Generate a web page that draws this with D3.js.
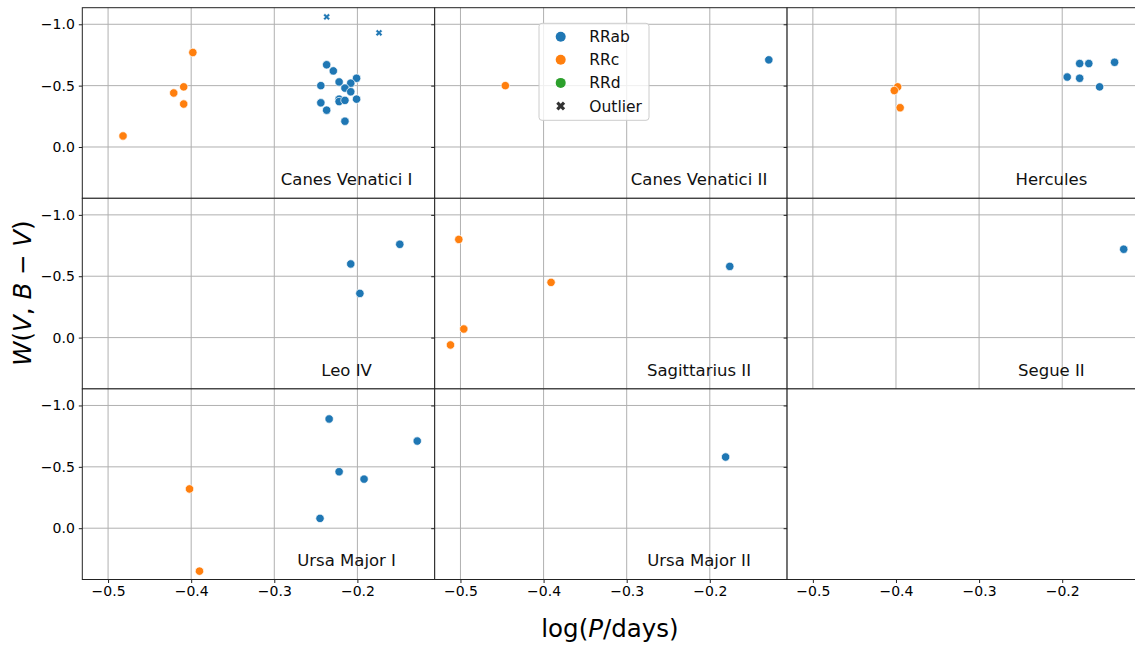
<!DOCTYPE html>
<html>
<head>
<meta charset="utf-8">
<script src="https://cdn.jsdelivr.net/npm/d3@7"></script>
<style>
  body { margin: 0; background: #fff; }
  svg { display: block; font-family: "DejaVu Sans", sans-serif; }
</style>
</head>
<body>
<div id="chart"></div>
<script>
// panel names, in grid order (3 columns)
const galaxies = ["Canes Venatici I", "Canes Venatici II", "Hercules",
                  "Leo IV", "Sagittarius II", "Segue II",
                  "Ursa Major I", "Ursa Major II"];

// one entry per star: galaxy index, log period, Wesenheit magnitude, type, outlier flag
const starGalaxy = [0,0,0,0,0, 0,0,0,0,0,0,0,0,0,0,0,0,0,0,0,0,0,
                    1,1,
                    2,2,2,2,2,2,2,2,2,
                    3,3,3,
                    4,4,4,4,4,
                    5,
                    6,6,6,6,6,6,6,
                    7];
const starLogP = [-0.482,-0.421,-0.409,-0.409,-0.398,
                  -0.237,-0.229,-0.244,-0.222,-0.201,-0.208,-0.215,-0.208,-0.222,-0.222,-0.215,-0.201,-0.244,-0.237,-0.215,
                  -0.237,-0.174,
                  -0.446,-0.129,
                  -0.398,-0.402,-0.395,-0.194,-0.179,-0.168,-0.179,-0.155,-0.137,
                  -0.208,-0.149,-0.197,
                  -0.502,-0.391,-0.496,-0.512,-0.176,
                  -0.126,
                  -0.234,-0.128,-0.222,-0.192,-0.245,-0.402,-0.390,
                  -0.181];
const starW = [-0.09,-0.44,-0.49,-0.35,-0.77,
               -0.67,-0.62,-0.50,-0.53,-0.56,-0.52,-0.48,-0.45,-0.39,-0.37,-0.38,-0.39,-0.36,-0.30,-0.21,
               -1.06,-0.93,
               -0.50,-0.71,
               -0.49,-0.46,-0.32,-0.57,-0.68,-0.68,-0.56,-0.49,-0.69,
               -0.60,-0.76,-0.36,
               -0.80,-0.45,-0.07,0.06,-0.58,
               -0.72,
               -0.89,-0.71,-0.46,-0.40,-0.08,-0.32,0.35,
               -0.58];
const starType = ["RRc","RRc","RRc","RRc","RRc",
                  "RRab","RRab","RRab","RRab","RRab","RRab","RRab","RRab","RRab","RRab","RRab","RRab","RRab","RRab","RRab",
                  "RRab","RRab",
                  "RRc","RRab",
                  "RRc","RRc","RRc","RRab","RRab","RRab","RRab","RRab","RRab",
                  "RRab","RRab","RRab",
                  "RRc","RRc","RRc","RRc","RRab",
                  "RRab",
                  "RRab","RRab","RRab","RRab","RRab","RRc","RRc",
                  "RRab"];
const starOutlier = [0,0,0,0,0, 0,0,0,0,0,0,0,0,0,0,0,0,0,0,0, 1,1,
                     0,0, 0,0,0,0,0,0,0,0,0, 0,0,0, 0,0,0,0,0, 0, 0,0,0,0,0,0,0, 0];

const types = ["RRab", "RRc", "RRd"];
const legendLabels = ["RRab", "RRc", "RRd", "Outlier"];
const xTicks = [-0.5, -0.4, -0.3, -0.2];
const yTicks = [-1.0, -0.5, 0.0];

const stars = starGalaxy.map((g, i) => ({
  galaxy: g, logP: starLogP[i], w: starW[i], type: starType[i], outlier: starOutlier[i] === 1
}));

const width = 1135, height = 649;
const grid = { left: 82.3, top: 7.7, w: 352.4, h: 190.6 };

const svg = d3.select('#chart')
  .append('svg')
  .attr('width', width)
  .attr('height', height);

const x = d3.scaleLinear().domain([-0.531, -0.107]).range([0, grid.w]);
const y = d3.scaleLinear().domain([-1.135, 0.418]).range([0, grid.h]);
const color = d3.scaleOrdinal().domain(types).range(["#1f77b4", "#ff7f0e", "#2ca02c"]);
const fmt = d3.format(".1f");

for (let p = 0; p < 9; p++) {
  const col = p % 3, row = Math.floor(p / 3);
  const g = svg.append("g")
    .attr("transform", `translate(${grid.left + col * grid.w},${grid.top + row * grid.h})`);

  g.append("rect").attr("width", grid.w).attr("height", grid.h).attr("fill", "#fff");

  const hasData = p < galaxies.length;
  if (hasData) {
    // grid
    g.append("g").selectAll("line").data(xTicks).join("line")
      .attr("x1", d => x(d)).attr("x2", d => x(d))
      .attr("y1", 0).attr("y2", grid.h)
      .attr("stroke", "#b0b0b0").attr("stroke-width", 1);
    g.append("g").selectAll("line").data(yTicks).join("line")
      .attr("y1", d => y(d)).attr("y2", d => y(d))
      .attr("x1", 0).attr("x2", grid.w)
      .attr("stroke", "#b0b0b0").attr("stroke-width", 1);
  }

  // left axis, labels only in first column
  const ya = g.append("g")
    .call(d3.axisLeft(y).tickValues(yTicks).tickSize(3.5).tickPadding(4)
      .tickFormat(col === 0 ? fmt : () => ""));
  ya.select(".domain").remove();
  ya.selectAll("text").attr("font-size", "14px").attr("fill", "#000").attr("font-family", "DejaVu Sans");
  ya.selectAll("line").attr("stroke", "#222");

  if (row === 2) {
    const xa = g.append("g")
      .attr("transform", `translate(0,${grid.h})`)
      .call(d3.axisBottom(x).tickValues(xTicks).tickSize(3.5).tickPadding(3).tickFormat(fmt));
    xa.select(".domain").remove();
    xa.selectAll("text").attr("font-size", "14px").attr("fill", "#000").attr("font-family", "DejaVu Sans");
    xa.selectAll("line").attr("stroke", "#222");
  }

  if (hasData) {
    const pts = stars.filter(d => d.galaxy === p);
    g.append("g").selectAll("circle").data(pts.filter(d => !d.outlier)).join("circle")
      .attr("cx", d => x(d.logP)).attr("cy", d => y(d.w)).attr("r", 4.2)
      .attr("fill", d => color(d.type)).attr("stroke", "#fff").attr("stroke-width", 0.7);
    g.append("g").selectAll("path").data(pts.filter(d => d.outlier)).join("path")
      .attr("d", d3.symbol(d3.symbolCross, 28))
      .attr("transform", d => `translate(${x(d.logP)},${y(d.w)}) rotate(45)`)
      .attr("fill", d => color(d.type)).attr("stroke", "#fff").attr("stroke-width", 0.4);

    g.append("text")
      .attr("x", grid.w * 0.75).attr("y", 177.5)
      .attr("text-anchor", "middle")
      .attr("font-size", "16.5px").attr("fill", "#111")
      .text(galaxies[p]);
  }

  g.append("rect").attr("width", grid.w).attr("height", grid.h)
    .attr("fill", "none").attr("stroke", "#222").attr("stroke-width", 1);
}

// legend
const lg = svg.append("g").attr("transform", "translate(539,23.3)");
lg.append("rect").attr("width", 110).attr("height", 97).attr("rx", 3)
  .attr("fill", "#fff").attr("fill-opacity", 0.8).attr("stroke", "#ccc");
legendLabels.forEach((lab, i) => {
  const cy = 13.4 + i * 23.1;
  if (lab === "Outlier") {
    lg.append("path").attr("d", d3.symbol(d3.symbolCross, 50)())
      .attr("transform", `translate(21.7,${cy}) rotate(45)`).attr("fill", "#333");
  } else {
    lg.append("circle").attr("cx", 21.7).attr("cy", cy).attr("r", 5).attr("fill", color(lab));
  }
  lg.append("text").attr("x", 50.3).attr("y", cy).attr("dy", "0.36em")
    .attr("font-size", "15.5px").attr("fill", "#111").text(lab);
});

// axis titles
const xt = svg.append("text").attr("x", 610).attr("y", 637)
  .attr("text-anchor", "middle").attr("font-size", "24.5px").attr("fill", "#000");
xt.append("tspan").text("log(");
xt.append("tspan").attr("font-style", "italic").text("P");
xt.append("tspan").text("/days)");

const yt = svg.append("text").attr("transform", "translate(31,293) rotate(-90)")
  .attr("text-anchor", "middle").attr("font-size", "24.5px").attr("fill", "#000");
yt.append("tspan").attr("font-style", "italic").text("W");
yt.append("tspan").text("(");
yt.append("tspan").attr("font-style", "italic").text("V");
yt.append("tspan").text(", ");
yt.append("tspan").attr("font-style", "italic").text("B");
yt.append("tspan").text(" \u2212 ");
yt.append("tspan").attr("font-style", "italic").text("V");
yt.append("tspan").text(")");
</script>
</body>
</html>
